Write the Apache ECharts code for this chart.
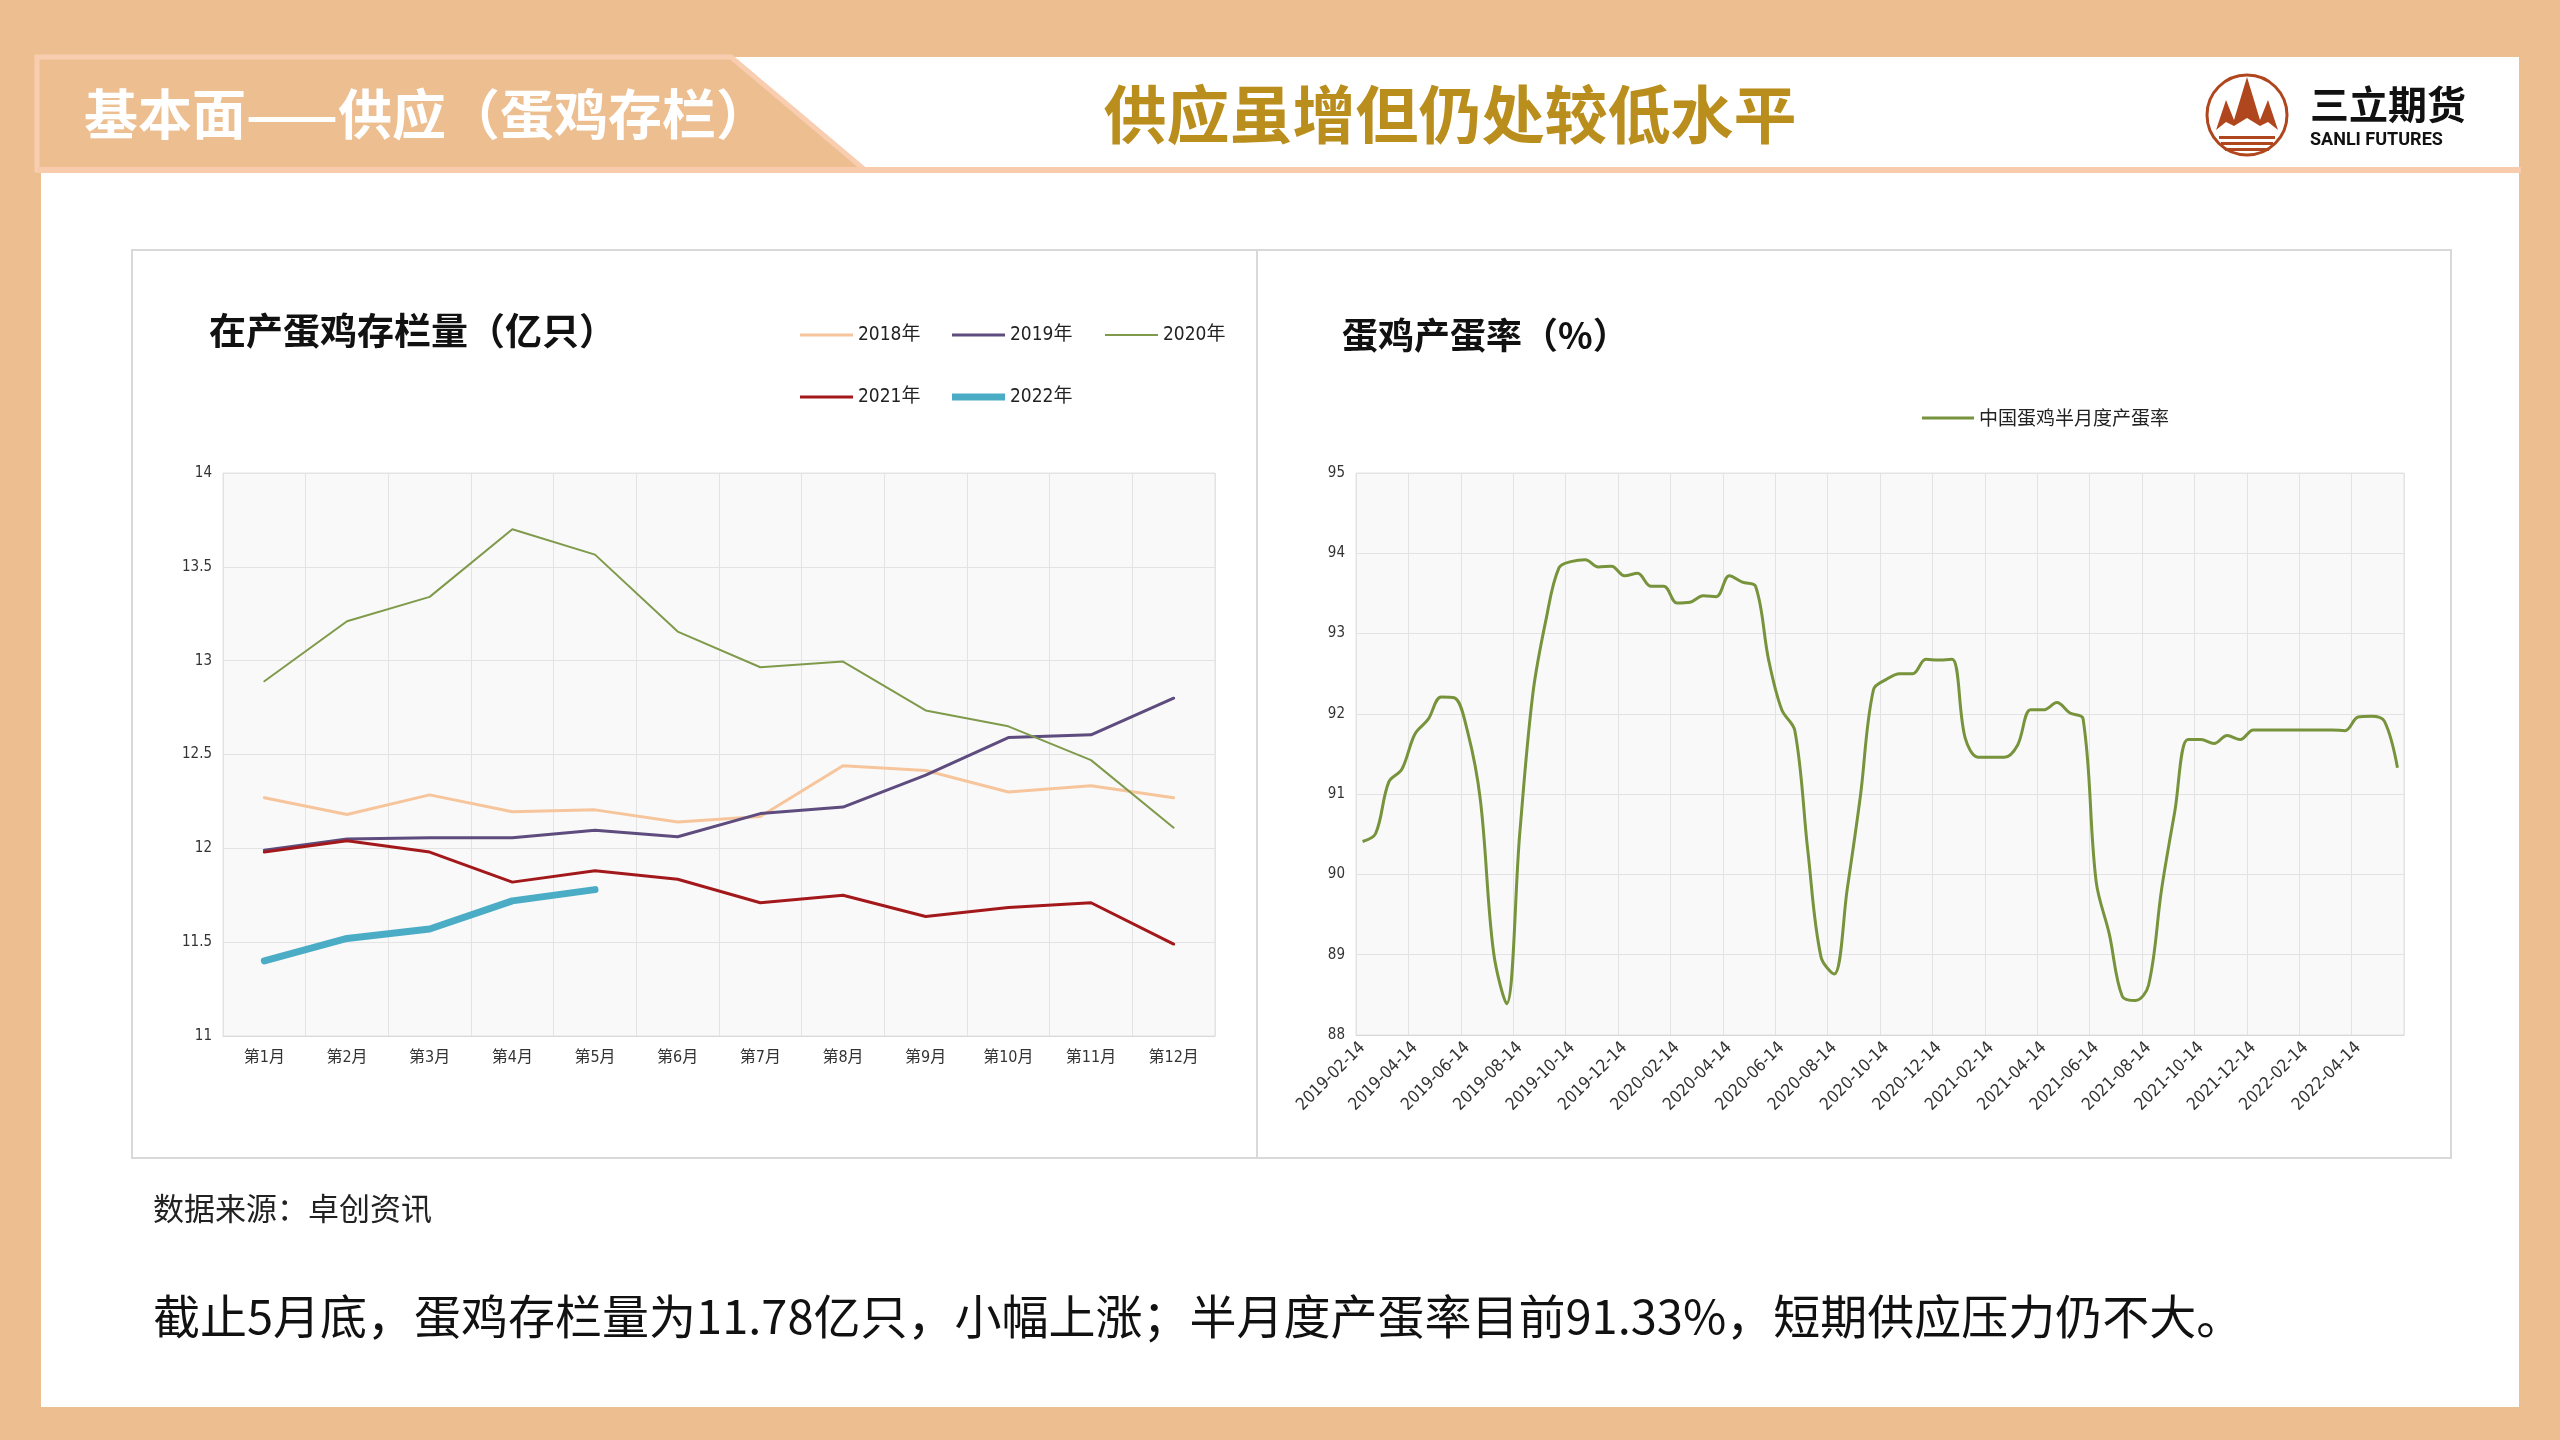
<!DOCTYPE html>
<html><head><meta charset="utf-8">
<script src="https://cdn.jsdelivr.net/npm/echarts@6/dist/echarts.min.js"></script>
<style>
html,body{margin:0;padding:0;width:2560px;height:1440px;background:#EDBE90;overflow:hidden}
#panel{position:absolute;left:41px;top:57px;width:2478px;height:1350px;background:#fff}
#chart{position:absolute;left:0;top:0;width:2560px;height:1440px}
</style></head>
<body>
<div id="panel"></div>
<div id="chart"></div>
<script>
// ---- data ----
const months = ['第1月','第2月','第3月','第4月','第5月','第6月','第7月','第8月','第9月','第10月','第11月','第12月'];
const y2018 = [12.27, 12.18, 12.285, 12.195, 12.205, 12.14, 12.17, 12.44, 12.415, 12.30, 12.333, 12.27];
const y2019 = [11.99, 12.05, 12.057, 12.057, 12.096, 12.062, 12.185, 12.22, 12.39, 12.59, 12.605, 12.80];
const y2020 = [12.89, 13.21, 13.34, 13.70, 13.565, 13.155, 12.965, 12.995, 12.735, 12.65, 12.47, 12.11];
const y2021 = [11.98, 12.04, 11.98, 11.82, 11.88, 11.835, 11.71, 11.75, 11.637, 11.685, 11.71, 11.49];
const y2022 = [11.40, 11.52, 11.57, 11.72, 11.78];
const stockTicks = [11, 11.5, 12, 12.5, 13, 13.5, 14];

const dates = [
'2019-02-14','2019-02-28','2019-03-14','2019-03-31','2019-04-14','2019-04-30','2019-05-14','2019-05-31','2019-06-14','2019-06-30','2019-07-14','2019-07-31','2019-08-14','2019-08-31','2019-09-14','2019-09-30','2019-10-14','2019-10-31','2019-11-14','2019-11-30','2019-12-14','2019-12-31',
'2020-01-14','2020-01-31','2020-02-14','2020-02-29','2020-03-14','2020-03-31','2020-04-14','2020-04-30','2020-05-14','2020-05-31','2020-06-14','2020-06-30','2020-07-14','2020-07-31','2020-08-14','2020-08-31','2020-09-14','2020-09-30','2020-10-14','2020-10-31','2020-11-14','2020-11-30','2020-12-14','2020-12-31',
'2021-01-14','2021-01-31','2021-02-14','2021-02-28','2021-03-14','2021-03-31','2021-04-14','2021-04-30','2021-05-14','2021-05-31','2021-06-14','2021-06-30','2021-07-14','2021-07-31','2021-08-14','2021-08-31','2021-09-14','2021-09-30','2021-10-14','2021-10-31','2021-11-14','2021-11-30','2021-12-14','2021-12-31',
'2022-01-14','2022-01-31','2022-02-14','2022-02-28','2022-03-14','2022-03-31','2022-04-14','2022-04-30','2022-05-14','2022-05-31'];
const layRate = [
90.41, 90.51, 91.15, 91.31, 91.75, 91.93, 92.21, 92.20, 91.79, 90.92,
89.03, 88.39, 90.51, 92.25, 93.17, 93.82, 93.90, 93.92, 93.83, 93.84,
93.72, 93.75, 93.59, 93.59, 93.38, 93.39, 93.47, 93.46, 93.72, 93.64,
93.59, 92.67, 92.05, 91.79, 90.28, 88.97, 88.76, 89.82, 90.97, 92.30,
92.43, 92.50, 92.50, 92.68, 92.67, 92.68, 91.70, 91.46, 91.46, 91.46,
91.61, 92.05, 92.05, 92.14, 92.01, 91.94, 89.91, 89.26, 88.48, 88.43,
88.62, 89.82, 90.78, 91.68, 91.68, 91.63, 91.73, 91.68, 91.80, 91.80,
91.80, 91.80, 91.80, 91.80, 91.80, 91.79, 91.96, 91.97, 91.91, 91.33];
const rateTicks = [88, 89, 90, 91, 92, 93, 94, 95];

// ---- styles ----
const CJK = '"Noto Sans CJK SC", sans-serif';
const NARROW = '"Liberation Sans Narrow", "DejaVu Sans Condensed", "Noto Sans CJK SC", sans-serif';
const gridLine = '#E3E3E3';
const lineSeries = [
  {name:'2018年', data:y2018, color:'#F7C59C', width:3},
  {name:'2019年', data:y2019, color:'#5E4C7E', width:3},
  {name:'2020年', data:y2020, color:'#7F9A4B', width:2},
  {name:'2021年', data:y2021, color:'#A3191B', width:3},
  {name:'2022年', data:y2022, color:'#4BACC6', width:7}
];
const legendPos = [[795,318],[947,318],[1100,318],[795,380],[947,380]];

function txt(x, y, text, font, fill, align){
  return {type:'text', silent:true, style:{x:x, y:y, text:text, font:font, fill:fill,
    textAlign:align||'left', align:align||'left', textVerticalAlign:'middle', verticalAlign:'middle'}};
}

const legends = lineSeries.map((s, i) => ({
  data:[s.name], left:legendPos[i][0], top:legendPos[i][1], icon:'rect', itemWidth:53, itemHeight:s.width,
  itemGap:0, textStyle:{fontSize:19, color:'#222', fontFamily:NARROW, lineHeight:24}
}));
legends.push({data:['中国蛋鸡半月度产蛋率'], left:1917, top:401, icon:'rect', itemWidth:52, itemHeight:3,
  textStyle:{fontSize:19, color:'#222', fontFamily:CJK, lineHeight:24}});

const option = {
  animation:false,
  textStyle:{fontFamily:NARROW},
  legend: legends,
  grid:[
    {left:223, top:473, width:992, height:563, show:true, backgroundColor:'#F9F9F9', borderWidth:1, borderColor:gridLine},
    {left:1356, top:473, width:1048, height:562, show:true, backgroundColor:'#F9F9F9', borderWidth:1, borderColor:gridLine}
  ],
  xAxis:[
    {type:'category', gridIndex:0, data:months, boundaryGap:true,
     axisLine:{lineStyle:{color:'#D9D9D9'}}, axisTick:{show:false},
     axisLabel:{fontSize:16, color:'#333', margin:14, fontFamily:NARROW},
     splitLine:{show:true, lineStyle:{color:gridLine}}},
    {type:'category', gridIndex:1, data:dates, boundaryGap:true,
     axisLine:{lineStyle:{color:'#D9D9D9'}}, axisTick:{show:false},
     axisLabel:{fontSize:17, color:'#333', margin:10, rotate:45, interval:3, fontFamily:NARROW},
     splitLine:{show:true, interval:3, lineStyle:{color:gridLine}}}
  ],
  yAxis:[
    {type:'value', gridIndex:0, min:stockTicks[0], max:stockTicks[stockTicks.length-1], interval:0.5,
     axisLine:{show:false}, axisTick:{show:false},
     axisLabel:{fontSize:15, color:'#333', margin:11, fontFamily:NARROW},
     splitLine:{show:true, lineStyle:{color:gridLine}}},
    {type:'value', gridIndex:1, min:rateTicks[0], max:rateTicks[rateTicks.length-1], interval:1,
     axisLine:{show:false}, axisTick:{show:false},
     axisLabel:{fontSize:15, color:'#333', margin:11, fontFamily:NARROW},
     splitLine:{show:true, lineStyle:{color:gridLine}}}
  ],
  series: lineSeries.map(s => ({
    type:'line', name:s.name, xAxisIndex:0, yAxisIndex:0, data:s.data, symbol:'none',
    itemStyle:{color:s.color}, lineStyle:{color:s.color, width:s.width, cap:'round', join:'round'}
  })).concat([{
    type:'line', name:'中国蛋鸡半月度产蛋率', xAxisIndex:1, yAxisIndex:1, data:layRate, symbol:'none',
    smooth:0.35, itemStyle:{color:'#77933C'}, lineStyle:{color:'#77933C', width:3}
  }]),
  graphic:[
    // header tab
    {type:'polygon', silent:true, shape:{points:[[37,57],[731,57],[865,170],[37,170]]},
     style:{fill:'#EDBE90', stroke:'#F8CDB0', lineWidth:5}},
    {type:'rect', silent:true, shape:{x:37, y:167, width:2484, height:6}, style:{fill:'#F8CBAD'}},
    txt(84, 114, '基本面——供应（蛋鸡存栏）', 'bold 54px ' + CJK, '#FFFFFF'),
    txt(1450, 114, '供应虽增但仍处较低水平', 'bold 63px ' + CJK, '#BA8E1C', 'center'),
    // logo
    {type:'circle', silent:true, shape:{cx:2247, cy:115, r:40}, style:{fill:'none', stroke:'#B0461E', lineWidth:3}},
    {type:'polygon', silent:true, shape:{points:[[2216,130],[2226,100],[2234,120],[2247,77],[2260,120],[2268,100],[2278,130],[2268,122],[2260,126],[2247,118],[2234,126],[2226,122]]},
     style:{fill:'#B0461E'}},
    {type:'rect', silent:true, shape:{x:2219, y:136, width:56, height:3}, style:{fill:'#B0461E'}},
    {type:'rect', silent:true, shape:{x:2221, y:142, width:52, height:3}, style:{fill:'#B0461E'}},
    {type:'rect', silent:true, shape:{x:2225, y:148, width:44, height:3}, style:{fill:'#B0461E'}},
    txt(2310, 104, '三立期货', 'bold 39px ' + CJK, '#111111'),
    txt(2310, 140, 'SANLI FUTURES', 'bold 18px Roboto, sans-serif', '#111111'),
    // chart frame
    {type:'rect', silent:true, shape:{x:132, y:250, width:2319, height:908}, style:{fill:'none', stroke:'#D9D9D9', lineWidth:2}},
    {type:'line', silent:true, shape:{x1:1257, y1:250, x2:1257, y2:1158}, style:{stroke:'#D9D9D9', lineWidth:2}},
    txt(209, 331, '在产蛋鸡存栏量（亿只）', 'bold 37px ' + CJK, '#111111'),
    txt(1342, 335, '蛋鸡产蛋率（%）', 'bold 36px ' + CJK, '#111111'),
    // footer
    txt(153, 1208, '数据来源：卓创资讯', '31px ' + CJK, '#222222'),
    txt(153, 1316, '截止5月底，蛋鸡存栏量为11.78亿只，小幅上涨；半月度产蛋率目前91.33%，短期供应压力仍不大。', '47px ' + CJK, '#111111')
  ]
};
const chart = echarts.init(document.getElementById('chart'), null, {renderer:'canvas', width:2560, height:1440});
chart.setOption(option);
</script>
</body></html>
